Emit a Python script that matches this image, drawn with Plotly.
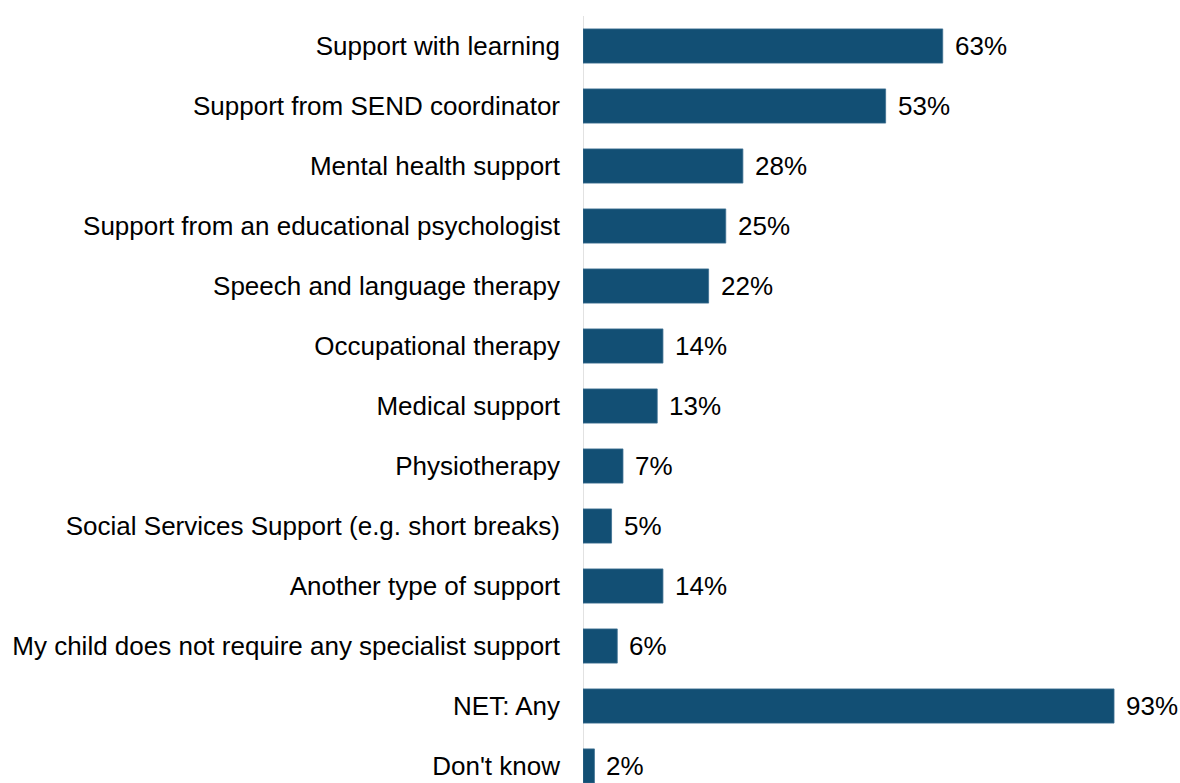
import plotly.graph_objects as go

categories = [
    "Support with learning",
    "Support from SEND coordinator",
    "Mental health support",
    "Support from an educational psychologist",
    "Speech and language therapy",
    "Occupational therapy",
    "Medical support",
    "Physiotherapy",
    "Social Services Support (e.g. short breaks)",
    "Another type of support",
    "My child does not require any specialist support",
    "NET: Any",
    "Don't know",
]
values = [63, 53, 28, 25, 22, 14, 13, 7, 5, 14, 6, 93, 2]

BAR = "#124F74"
FONT = "Liberation Sans, Arial, sans-serif"
SIZE = 26

fig = go.Figure(
    go.Bar(
        x=values,
        y=categories,
        orientation="h",
        width=0.57,
        marker=dict(color=BAR, line=dict(color="#3C6F91", width=0.8)),
        hoverinfo="skip",
    )
)

for c, v in zip(categories, values):
    fig.add_annotation(
        x=v, y=c, text=f"{v}%", showarrow=False,
        xanchor="left", yanchor="middle", xshift=10,
        font=dict(family=FONT, size=SIZE, color="#000000"),
    )

fig.update_layout(
    width=1180,
    height=783,
    margin=dict(l=583, r=26, t=16, b=0),
    paper_bgcolor="white",
    plot_bgcolor="white",
    showlegend=False,
    font=dict(family=FONT, size=SIZE, color="#000000"),
)
fig.update_xaxes(range=[0, 100], visible=False)
fig.update_yaxes(
    type="category",
    categoryorder="array",
    categoryarray=categories,
    range=[12.283, -0.5],
    showgrid=False,
    zeroline=False,
    showline=False,
    ticks="",
    ticklabelstandoff=22,
    tickfont=dict(family=FONT, size=SIZE, color="#000000"),
)
# vertical baseline at zero
fig.add_shape(
    type="line", xref="x", yref="paper", x0=0, x1=0, y0=0, y1=1,
    line=dict(color="#D9D9D9", width=1.5), layer="below",
)

fig.write_html("out.html")
